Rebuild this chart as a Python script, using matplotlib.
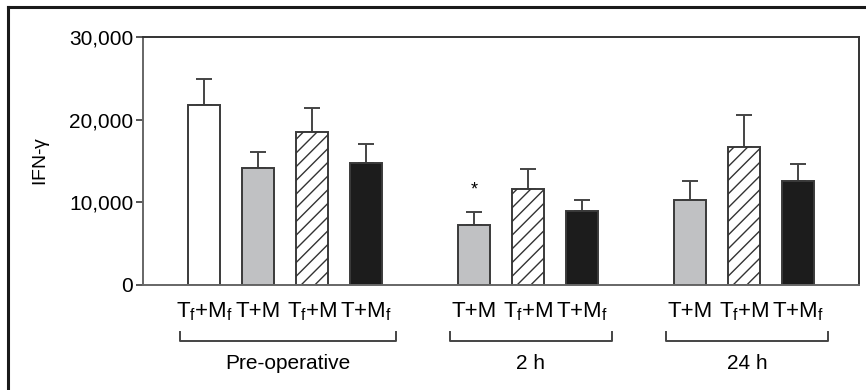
import matplotlib.pyplot as plt
from matplotlib.collections import LineCollection
from matplotlib.transforms import IdentityTransform
import numpy as np

plt.rcParams['font.family'] = ['Liberation Sans', 'DejaVu Sans']
plt.rcParams['mathtext.fontset'] = 'custom'
plt.rcParams['mathtext.rm'] = 'Liberation Sans'
plt.rcParams['mathtext.it'] = 'Liberation Sans'

# data
groups = ['Pre-operative', '2 h', '24 h']
group_bars = [['TfMf', 'TM', 'TfM', 'TMf'], ['TM', 'TfM', 'TMf'], ['TM', 'TfM', 'TMf']]
means = [[21800, 14150, 18550, 14780], [7300, 11570, 8990], [10240, 16690, 12580]]
errs = [[3150, 1970, 2870, 2270], [1530, 2500, 1330], [2370, 3870, 2020]]
labels = {
    'TfMf': r'$\mathregular{T_f}$+$\mathregular{M_f}$',
    'TM': 'T+M',
    'TfM': r'$\mathregular{T_f}$+M',
    'TMf': r'T+$\mathregular{M_f}$',
}
colors = {'TfMf': 'white', 'TM': '#c0c1c3', 'TfM': 'white', 'TMf': '#1c1c1c'}
hatched = ['TfM']
starred = [(1, 0)]  # (group, bar) with significance mark

fig = plt.figure(figsize=(8.66, 3.9), dpi=100)
ax = fig.add_axes([143 / 866, 1 - 285 / 390, (859 - 143) / 866, (285 - 37) / 390])
ax.set_xlim(-1.13, 12.13)
ax.set_ylim(0, 30000)

edge = '#3a3a3a'


def hatch_bar(rect, spacing=13.7):
    # diagonal lines drawn in pixels, clipped to the bar
    (x0, y0), (x1, y1) = ax.transData.transform([(rect.get_x(), 0),
                                                  (rect.get_x() + rect.get_width(), rect.get_height())])
    segs = []
    c = y0 - (x1 - x0)
    while c < y1:
        segs.append([(x0, c), (x1, c + (x1 - x0))])
        c += spacing
    lc = LineCollection(segs, colors='#333333', linewidths=1.0, transform=IdentityTransform(), zorder=2.5)
    ax.add_collection(lc)
    lc.set_clip_path(rect)


pos = 0
tick_pos, tick_lab = [], []
for g, name in enumerate(groups):
    start = pos
    for b, key in enumerate(group_bars[g]):
        bars = ax.bar(pos, means[g][b], width=0.61, color=colors[key],
                      edgecolor=edge, linewidth=1.4, zorder=2)
        if key in hatched:
            hatch_bar(bars[0])
        ax.errorbar(pos, means[g][b], yerr=[[0], [errs[g][b]]], fmt='none',
                    ecolor='#444444', elinewidth=1.4, capsize=5.5, capthick=1.4, zorder=1)
        if (g, b) in starred:
            ax.text(pos, means[g][b] + errs[g][b] + 2700, '*', ha='center', va='center', fontsize=13)
        tick_pos.append(pos)
        tick_lab.append(labels[key])
        pos += 1
    end = pos - 1
    # bracket under the group
    tr = ax.get_xaxis_transform()
    x0, x1 = start - 0.45, end + 0.56
    ax.plot([x0, x0, x1, x1], [-0.19, -0.226, -0.226, -0.19], color='#444444', lw=1.4,
            transform=tr, clip_on=False)
    ax.text((x0 + x1) / 2, -0.315, name, transform=tr, ha='center', va='center', fontsize=15)
    pos += 1

ax.set_yticks([0, 10000, 20000, 30000])
ax.set_yticklabels(['0', '10,000', '20,000', '30,000'], fontsize=15)
ax.set_xticks(tick_pos)
ax.set_xticklabels(tick_lab, fontsize=16)
for t in ax.get_xticklabels():
    t.set_verticalalignment('baseline')
ax.tick_params(axis='x', length=0, pad=23)
ax.tick_params(axis='y', length=5, width=1.4, color='#555555', pad=2)
for s in ax.spines.values():
    s.set_color('#333333')
    s.set_linewidth(1.4)
ax.spines['left'].set_color('#666666')
ax.spines['bottom'].set_color('#666666')
ax.set_ylabel(r'IFN-$\gamma$', fontsize=14, labelpad=12)

# outer frame (left and top edges visible)
fig.add_artist(plt.Line2D([8 / 866, 8 / 866], [0, 1 - 7 / 390], color='#1a1a1a', lw=2.2))
fig.add_artist(plt.Line2D([8 / 866, 1], [1 - 7 / 390, 1 - 7 / 390], color='#1a1a1a', lw=2.2))

fig.savefig('out.png', dpi=100)
